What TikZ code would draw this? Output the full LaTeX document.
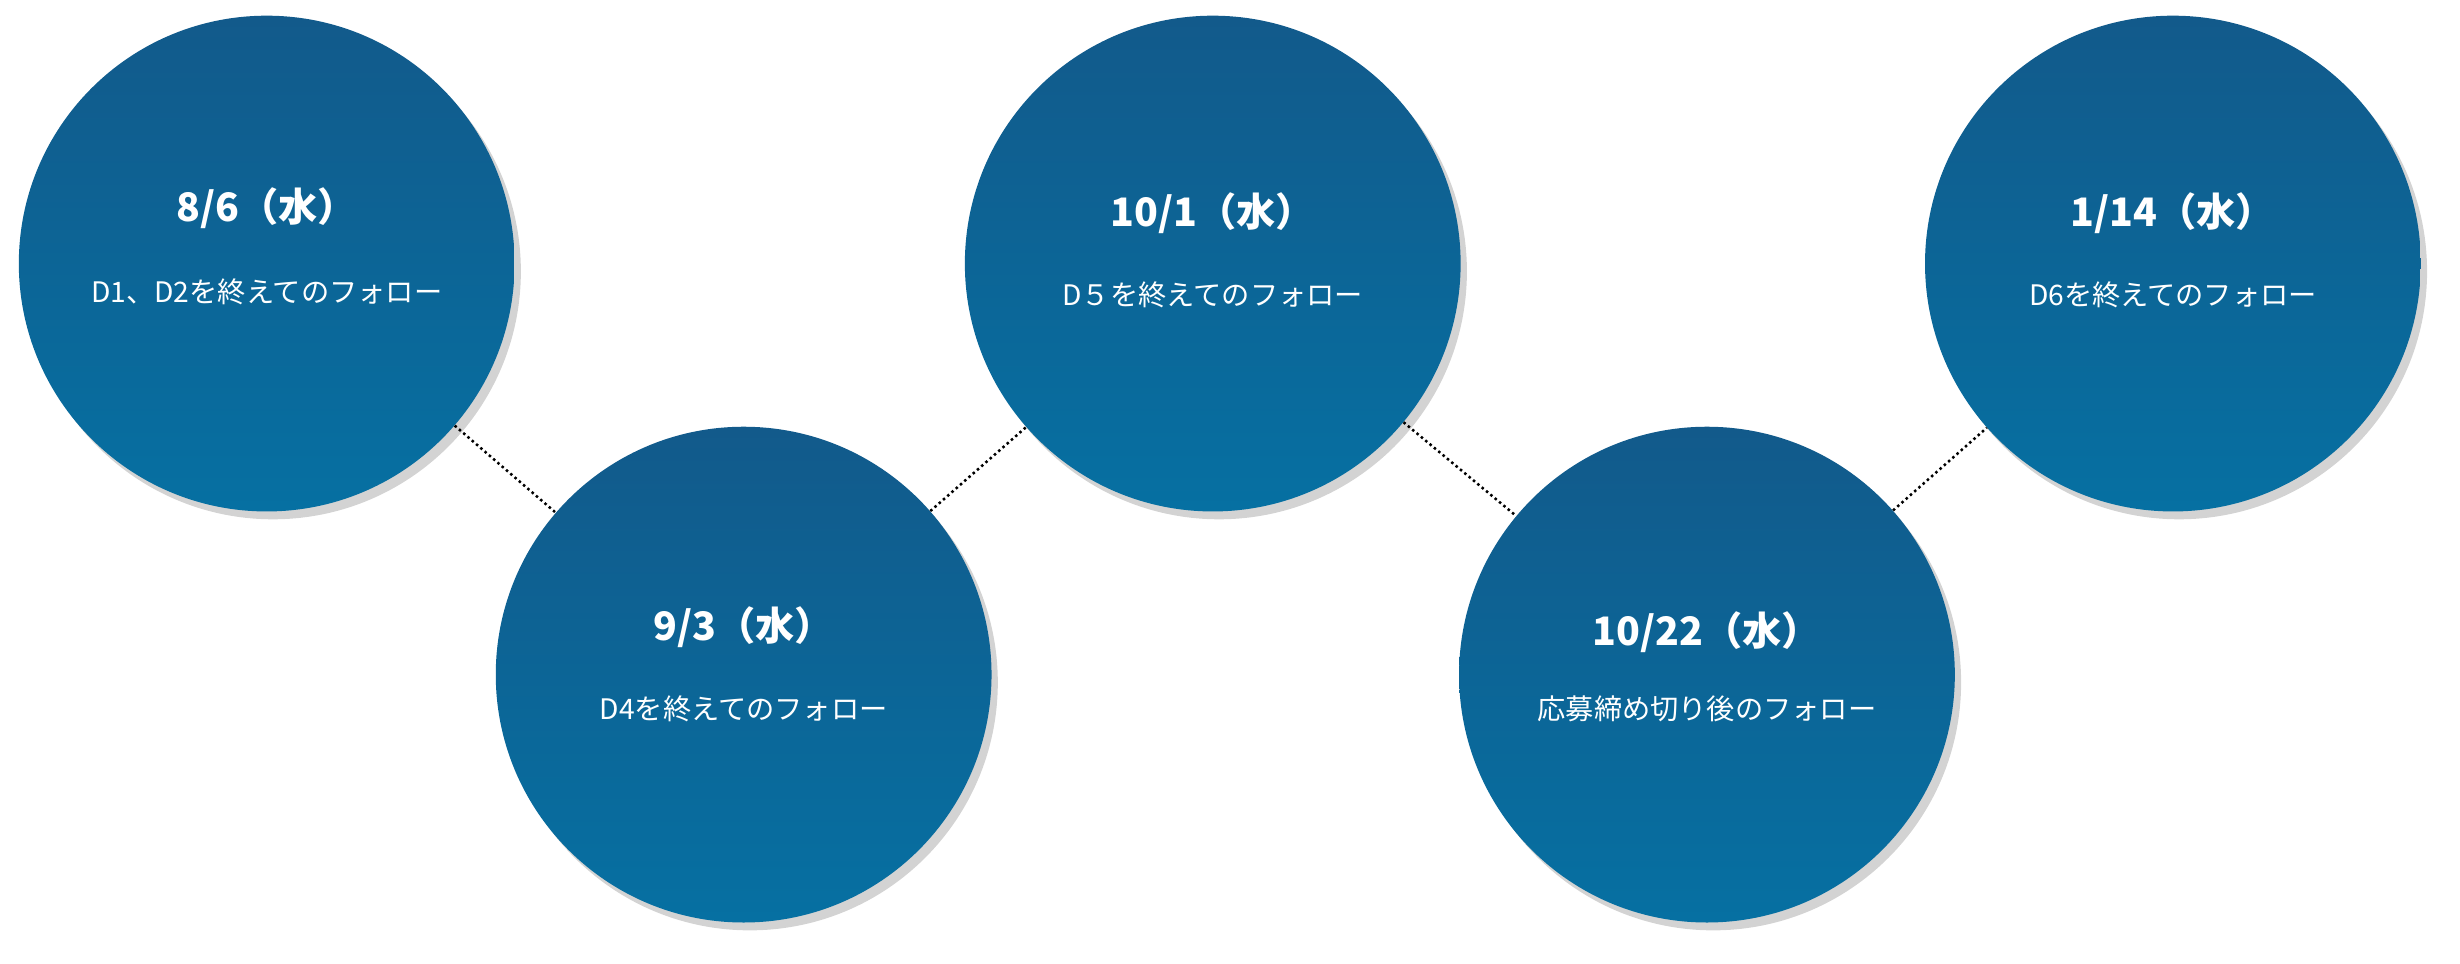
\documentclass[tikz,border=0pt]{standalone}
\usepackage{fontspec}
\setmainfont{Noto Sans CJK JP}
\usetikzlibrary{shadows,shadings}
\definecolor{ctop}{HTML}{125A8B}
\definecolor{cbot}{HTML}{0670A2}
\tikzset{
  bub/.style={circle,minimum size=316pt,inner sep=0pt,top color=ctop,bottom color=cbot,draw=none,
    drop shadow={shadow xshift=4pt,shadow yshift=-5pt,opacity=0.35}},
  ttl/.style={text=white,font=\fontsize{25}{28}\selectfont\bfseries},
  sub/.style={text=white,font=\fontsize{18}{21}\selectfont},
  conn/.style={dotted,line width=1.6pt,black}
}
\begin{document}
\begin{tikzpicture}[x=1pt,y=1pt]
\useasboundingbox (0,0) rectangle (1568,614);
\node[bub] (c1) at (170,446) {};
\node[bub] (c2) at (474,184) {};
\node[bub] (c3) at (773,446) {};
\node[bub] (c4) at (1088,184) {};
\node[bub] (c5) at (1385,446) {};
\draw[conn] (c1) -- (c2);
\draw[conn] (c2) -- (c3);
\draw[conn] (c3) -- (c4);
\draw[conn] (c4) -- (c5);
\node[ttl] (t1) at (170,481) {8/6（水）};
\node[sub] (s1) at (170,428) {D1、D2を終えてのフォロー};
\node[ttl] (t2) at (474,214) {9/3（水）};
\node[sub] (s2) at (474,162) {D4を終えてのフォロー};
\node[ttl] (t3) at (773,478) {10/1（水）};
\node[sub] (s3) at (773,426) {D５を終えてのフォロー};
\node[ttl] (t4) at (1088,211) {10/22（水）};
\node[sub] (s4) at (1088,162) {応募締め切り後のフォロー};
\node[ttl] (t5) at (1385,478) {1/14（水）};
\node[sub] (s5) at (1385,426) {D6を終えてのフォロー};
\end{tikzpicture}
\end{document}
